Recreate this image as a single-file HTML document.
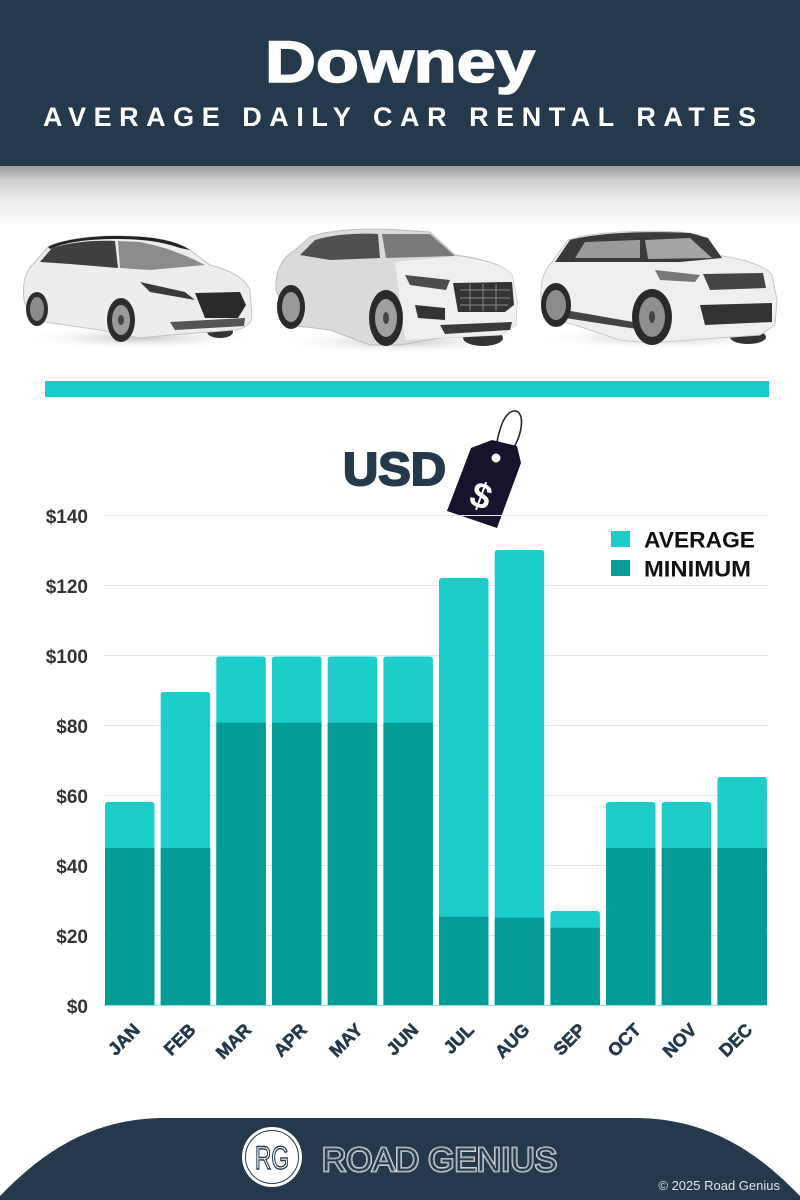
<!DOCTYPE html>
<html>
<head>
<meta charset="utf-8">
<style>
  html,body{margin:0;padding:0;background:#fff;}
  svg{display:block;}
  text{font-family:"Liberation Sans", Arial, sans-serif;}
</style>
</head>
<body>
<svg width="800" height="1200" viewBox="0 0 800 1200" xmlns="http://www.w3.org/2000/svg">
  <defs>
    <linearGradient id="shade" x1="0" y1="0" x2="0" y2="1">
      <stop offset="0" stop-color="#9c9c9c"/>
      <stop offset="0.25" stop-color="#cfcfcf"/>
      <stop offset="0.6" stop-color="#ececec"/>
      <stop offset="1" stop-color="#fbfbfb"/>
    </linearGradient>
    <radialGradient id="shadow" cx="0.5" cy="0.5" r="0.5">
      <stop offset="0" stop-color="#c8c8c8"/>
      <stop offset="1" stop-color="#ffffff" stop-opacity="0"/>
    </radialGradient>
  </defs>

  <!-- Header -->
  <rect x="0" y="0" width="800" height="166" fill="#243a4c"/>
  <text x="400" y="82" text-anchor="middle" font-size="58" font-weight="bold" fill="#fff" stroke="#fff" stroke-width="1.6" textLength="270" lengthAdjust="spacingAndGlyphs">Downey</text>
  <text x="43" y="126" font-size="27" font-weight="bold" fill="#fff" textLength="713" lengthAdjust="spacing">AVERAGE DAILY CAR RENTAL RATES</text>

  <!-- shade below header -->
  <rect x="0" y="166" width="800" height="58" fill="url(#shade)"/>

  <!-- Car shadows -->
  <ellipse cx="140" cy="338" rx="125" ry="12" fill="url(#shadow)"/>
  <ellipse cx="400" cy="342" rx="130" ry="12" fill="url(#shadow)"/>
  <ellipse cx="660" cy="338" rx="130" ry="12" fill="url(#shadow)"/>

  <!-- Car 1 -->
  <g>
    <ellipse cx="220" cy="332" rx="13" ry="6" fill="#333"/>
    <path d="M24,300 C22,285 25,270 35,262 L48,247 C60,240 90,236 115,236 C150,236 175,240 190,250 L210,265 C230,270 245,278 250,290 L252,318 C250,325 245,328 235,330 L170,335 L140,338 L100,330 L45,322 L30,318 Z" fill="#ededed" stroke="#c4c4c4" stroke-width="1"/>
    <path d="M40,262 L52,248 C70,242 95,240 115,241 L118,268 L70,264 Z" fill="#3f3f3f"/>
    <path d="M118,241 L140,242 C160,246 180,252 205,265 L150,270 L120,268 Z" fill="#8c8c8c"/>
    <path d="M48,247 C60,240 90,236 115,236 C150,236 175,240 190,250 L180,248 C160,241 140,239 115,239 C90,239 65,242 50,249 Z" fill="#222"/>
    <path d="M140,282 L185,292 L195,300 L150,292 Z" fill="#3a3a3a"/>
    <path d="M195,293 L240,292 L246,305 L238,318 L205,318 Z" fill="#2a2a2a"/>
    <path d="M170,322 L245,318 L244,326 L175,330 Z" fill="#555"/>
    <ellipse cx="37" cy="309" rx="11" ry="17" fill="#2e2e2e"/>
    <ellipse cx="37" cy="309" rx="7" ry="12" fill="#8a8a8a"/>
    <ellipse cx="121" cy="320" rx="14" ry="22" fill="#2d2d2d"/>
    <ellipse cx="121" cy="320" rx="9" ry="15" fill="#9a9a9a"/>
    <ellipse cx="121" cy="320" rx="3" ry="5" fill="#444"/>
  </g>

  <!-- Car 2 -->
  <g>
    <ellipse cx="483" cy="338" rx="20" ry="8" fill="#333"/>
    <path d="M276,290 C275,270 282,258 295,250 L310,237 C330,229 370,228 400,230 L430,232 L455,255 C480,258 505,265 512,275 L517,300 L516,325 L500,335 L440,338 L400,345 L370,345 L330,330 L290,325 Z" fill="#dadada" stroke="#bdbdbd" stroke-width="1"/>
    <path d="M395,262 L455,256 C480,259 505,265 512,275 L517,300 L516,325 L500,335 L440,338 L405,340 Z" fill="#efefef"/>
    <path d="M300,255 L315,240 C335,234 360,233 378,234 L380,258 L330,260 Z" fill="#4f4f4f"/>
    <path d="M382,234 L430,234 L455,256 L386,258 Z" fill="#7a7a7a"/>
    <path d="M405,275 L450,280 L446,290 L410,285 Z" fill="#4c4c4c"/>
    <path d="M453,283 L512,282 L514,305 L505,312 L458,312 Z" fill="#333"/>
    <path d="M460,290 L510,290 M460,298 L510,298 M460,305 L508,305 M470,284 L470,311 M483,284 L483,311 M496,284 L496,311" stroke="#888" stroke-width="1"/>
    <path d="M415,305 L445,308 L445,320 L418,318 Z" fill="#333"/>
    <path d="M440,325 L512,322 L510,330 L445,334 Z" fill="#3a3a3a"/>
    <ellipse cx="291" cy="307" rx="14" ry="22" fill="#2a2a2a"/>
    <ellipse cx="291" cy="307" rx="9" ry="15" fill="#999"/>
    <ellipse cx="386" cy="318" rx="17" ry="28" fill="#2a2a2a"/>
    <ellipse cx="386" cy="318" rx="11" ry="19" fill="#a0a0a0"/>
    <ellipse cx="386" cy="318" rx="3" ry="6" fill="#444"/>
  </g>

  <!-- Car 3 -->
  <g>
    <ellipse cx="748" cy="337" rx="18" ry="7" fill="#333"/>
    <path d="M541,300 C540,285 543,270 552,262 L568,240 C590,232 640,230 680,232 L700,235 L715,255 C740,258 765,265 772,275 L777,300 L775,325 L760,335 L690,340 L650,343 L620,340 L575,325 L545,318 Z" fill="#efefef" stroke="#c8c8c8" stroke-width="1"/>
    <path d="M555,262 L570,240 C600,232 650,231 690,233 L708,238 L722,258 L680,262 L600,262 Z" fill="#3a3a3a"/>
    <path d="M575,258 L585,242 L640,240 L640,258 Z" fill="#9a9a9a"/>
    <path d="M645,240 L690,238 L712,258 L648,259 Z" fill="#a5a5a5"/>
    <path d="M655,270 L700,275 L695,282 L660,280 Z" fill="#777"/>
    <path d="M703,274 L763,273 L766,288 L710,290 Z" fill="#444"/>
    <path d="M700,305 L772,303 L772,322 L705,325 Z" fill="#333"/>
    <path d="M565,310 L650,325 L650,331 L565,318 Z" fill="#444"/>
    <ellipse cx="556" cy="305" rx="15" ry="22" fill="#2a2a2a"/>
    <ellipse cx="556" cy="305" rx="10" ry="15" fill="#8d8d8d"/>
    <ellipse cx="652" cy="317" rx="20" ry="28" fill="#2a2a2a"/>
    <ellipse cx="652" cy="317" rx="13" ry="20" fill="#8f8f8f"/>
    <ellipse cx="652" cy="317" rx="3" ry="6" fill="#444"/>
  </g>

  <!-- teal divider -->
  <rect x="45" y="381" width="724" height="16" fill="#1ccbc9"/>

  <!-- USD + tag -->
  <text x="343" y="485" font-size="46" font-weight="bold" fill="#243a4c" stroke="#243a4c" stroke-width="2" textLength="103" lengthAdjust="spacingAndGlyphs">USD</text>
  <path d="M495,457 C497,435 503,412 514,411 C526,410 523,438 509,454" fill="none" stroke="#2a2838" stroke-width="1.6"/>
  <polygon points="471,448 492,440 517,446 521,463 497,528 447,511" fill="#16142c"/>
  <circle cx="496" cy="458" r="4.5" fill="#fff"/>
  <text x="481" y="508" text-anchor="middle" font-size="36" font-weight="bold" fill="#fff" transform="rotate(20 481 496)">$</text>

  <!-- grid -->
  <g stroke="#e4e4e4" stroke-width="1">
    <line x1="104" y1="515.5" x2="768" y2="515.5"/>
    <line x1="104" y1="585.5" x2="768" y2="585.5"/>
    <line x1="104" y1="655.5" x2="768" y2="655.5"/>
    <line x1="104" y1="725.5" x2="768" y2="725.5"/>
    <line x1="104" y1="795.5" x2="768" y2="795.5"/>
    <line x1="104" y1="865.5" x2="768" y2="865.5"/>
    <line x1="104" y1="935.5" x2="768" y2="935.5"/>
  </g>
  <line x1="104" y1="1005.5" x2="768" y2="1005.5" stroke="#8fe3e1" stroke-width="1"/>

  <!-- y labels -->
  <g font-size="19" font-weight="bold" fill="#333" text-anchor="end">
    <text x="88" y="523">$140</text>
    <text x="88" y="593">$120</text>
    <text x="88" y="663">$100</text>
    <text x="88" y="733">$80</text>
    <text x="88" y="803">$60</text>
    <text x="88" y="873">$40</text>
    <text x="88" y="943">$20</text>
    <text x="88" y="1013">$0</text>
  </g>

  <!-- bars -->
  <g fill="#1ccdca">
    <path d="M105,1005 V805 Q105,802 108,802 H151.5 Q154.5,802 154.5,805 V1005 Z"/>
    <path d="M160.7,1005 V695 Q160.7,692 163.7,692 H207.2 Q210.2,692 210.2,695 V1005 Z"/>
    <path d="M216.3,1005 V659.5 Q216.3,656.5 219.3,656.5 H262.8 Q265.8,656.5 265.8,659.5 V1005 Z"/>
    <path d="M272,1005 V659.5 Q272,656.5 275,656.5 H318.5 Q321.5,656.5 321.5,659.5 V1005 Z"/>
    <path d="M327.7,1005 V659.5 Q327.7,656.5 330.7,656.5 H374.2 Q377.2,656.5 377.2,659.5 V1005 Z"/>
    <path d="M383.4,1005 V659.5 Q383.4,656.5 386.4,656.5 H429.9 Q432.9,656.5 432.9,659.5 V1005 Z"/>
    <path d="M439,1005 V581 Q439,578 442,578 H485.5 Q488.5,578 488.5,581 V1005 Z"/>
    <path d="M494.7,1005 V553 Q494.7,550 497.7,550 H541.2 Q544.2,550 544.2,553 V1005 Z"/>
    <path d="M550.4,1005 V914 Q550.4,911 553.4,911 H596.9 Q599.9,911 599.9,914 V1005 Z"/>
    <path d="M606,1005 V805 Q606,802 609,802 H652.5 Q655.5,802 655.5,805 V1005 Z"/>
    <path d="M661.7,1005 V805 Q661.7,802 664.7,802 H708.2 Q711.2,802 711.2,805 V1005 Z"/>
    <path d="M717.4,1005 V780 Q717.4,777 720.4,777 H763.9 Q766.9,777 766.9,780 V1005 Z"/>
  </g>
  <g fill="#039c97">
    <rect x="105" y="848" width="49.5" height="157"/>
    <rect x="160.7" y="848" width="49.5" height="157"/>
    <rect x="216.3" y="722.7" width="49.5" height="282.3"/>
    <rect x="272" y="722.7" width="49.5" height="282.3"/>
    <rect x="327.7" y="722.7" width="49.5" height="282.3"/>
    <rect x="383.4" y="722.7" width="49.5" height="282.3"/>
    <rect x="439" y="916.7" width="49.5" height="88.3"/>
    <rect x="494.7" y="917.7" width="49.5" height="87.3"/>
    <rect x="550.4" y="927.7" width="49.5" height="77.3"/>
    <rect x="606" y="848" width="49.5" height="157"/>
    <rect x="661.7" y="848" width="49.5" height="157"/>
    <rect x="717.4" y="848" width="49.5" height="157"/>
  </g>

  <!-- legend -->
  <rect x="611" y="531" width="19" height="16" fill="#1ccdca"/>
  <rect x="611" y="560" width="19" height="16" fill="#039c97"/>
  <text x="644" y="547.5" font-size="22" font-weight="bold" fill="#111" textLength="111" lengthAdjust="spacingAndGlyphs">AVERAGE</text>
  <text x="644" y="576.5" font-size="22" font-weight="bold" fill="#111" textLength="107" lengthAdjust="spacingAndGlyphs">MINIMUM</text>

  <!-- x labels -->
  <g font-size="18" font-weight="bold" fill="#243a4c" stroke="#243a4c" stroke-width="0.6" text-anchor="end">
    <text transform="translate(141,1031) rotate(-45)">JAN</text>
    <text transform="translate(196.7,1031) rotate(-45)">FEB</text>
    <text transform="translate(252.3,1031) rotate(-45)">MAR</text>
    <text transform="translate(308,1031) rotate(-45)">APR</text>
    <text transform="translate(363.7,1031) rotate(-45)">MAY</text>
    <text transform="translate(419.4,1031) rotate(-45)">JUN</text>
    <text transform="translate(475,1031) rotate(-45)">JUL</text>
    <text transform="translate(530.7,1031) rotate(-45)">AUG</text>
    <text transform="translate(586.4,1031) rotate(-45)">SEP</text>
    <text transform="translate(642,1031) rotate(-45)">OCT</text>
    <text transform="translate(697.7,1031) rotate(-45)">NOV</text>
    <text transform="translate(753.4,1031) rotate(-45)">DEC</text>
  </g>

  <!-- footer -->
  <path d="M0,1200 L0,1196 C35,1160 85,1118 165,1118 L635,1118 C715,1118 765,1160 800,1196 L800,1200 Z" fill="#243a4c"/>
  <circle cx="272" cy="1157" r="30" fill="#fff"/>
  <circle cx="272" cy="1157" r="26.5" fill="none" stroke="#243a4c" stroke-width="1"/>
  <text x="272" y="1169" text-anchor="middle" font-size="32" fill="#fff" stroke="#243a4c" stroke-width="1.4" textLength="34" lengthAdjust="spacingAndGlyphs">RG</text>
  <text x="322" y="1171" font-size="33" fill="#243a4c" stroke="#fff" stroke-width="2.6" textLength="235" lengthAdjust="spacingAndGlyphs">ROAD GENIUS</text>
  <text x="322" y="1171" font-size="33" fill="#243a4c" stroke="#243a4c" stroke-width="1.2" textLength="235" lengthAdjust="spacingAndGlyphs">ROAD GENIUS</text>
  <text x="322" y="1171" font-size="33" fill="none" stroke="#fff" stroke-width="0.5" textLength="235" lengthAdjust="spacingAndGlyphs" opacity="0.8">ROAD GENIUS</text>
  <text x="780" y="1190" text-anchor="end" font-size="13" fill="#e2e6ea">© 2025 Road Genius</text>
</svg>
</body>
</html>
